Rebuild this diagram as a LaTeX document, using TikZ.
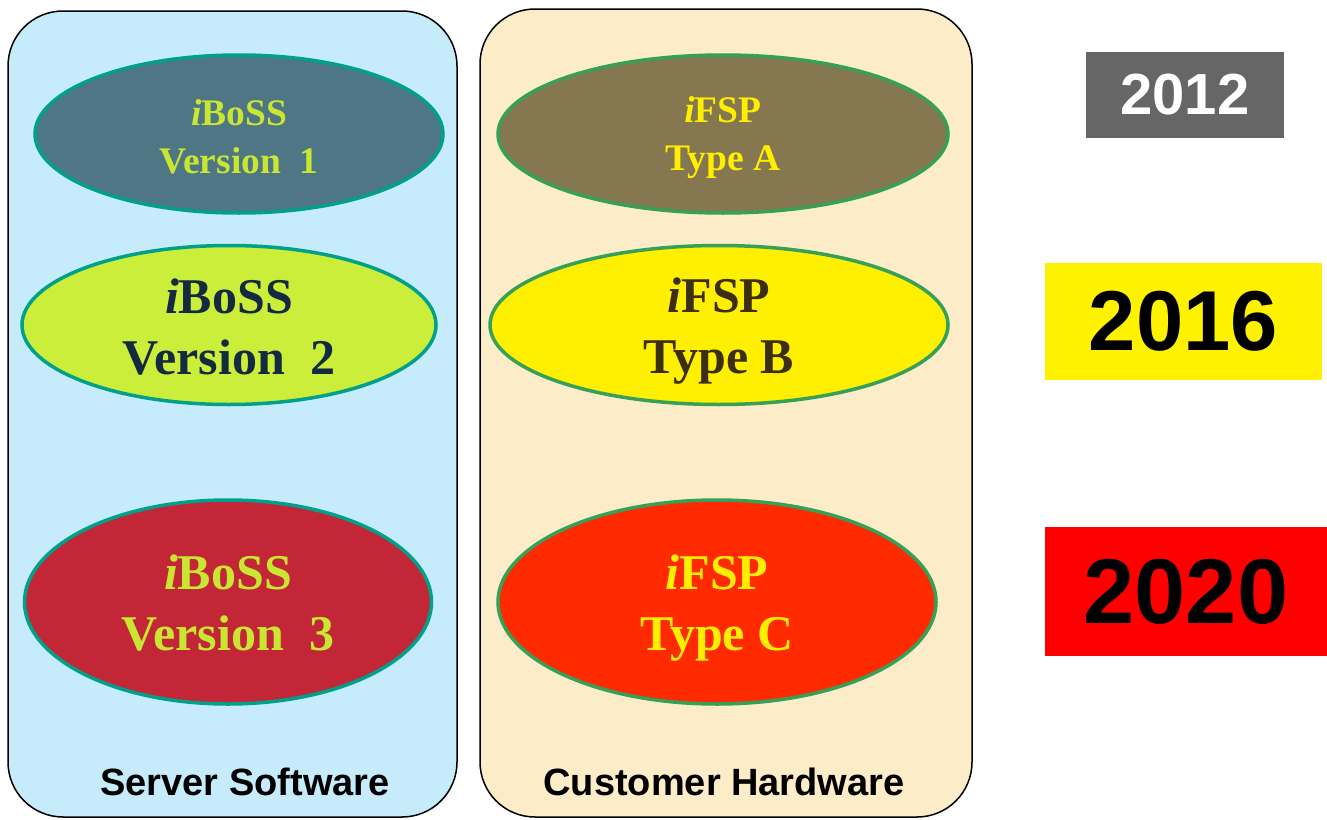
\documentclass[tikz,border=0pt]{standalone}
\usepackage{fontspec}
\setmainfont{Liberation Serif}
\setsansfont{Liberation Sans}
\usetikzlibrary{shapes.geometric}
\definecolor{boxblue}{HTML}{C6EBFA}
\definecolor{boxbeige}{HTML}{FCEDC8}
\definecolor{tealb}{HTML}{00A08A}
\definecolor{greenb}{HTML}{37A058}
\definecolor{slate}{HTML}{4F7685}
\definecolor{lime}{HTML}{CBEE3A}
\definecolor{crimson}{HTML}{C32636}
\definecolor{olive}{HTML}{857850}
\definecolor{brightyel}{HTML}{FFEF00}
\definecolor{redorange}{HTML}{FF2A00}
\definecolor{limetext}{HTML}{C8E632}
\definecolor{navytext}{HTML}{142A40}
\definecolor{browntext}{HTML}{3C2F10}
\definecolor{yeltext}{HTML}{FFEE00}
\definecolor{greybox}{HTML}{666666}
\begin{document}
\begin{tikzpicture}[x=1pt,y=-1pt,
  panel/.style={draw=black,line width=1.5pt,rounded corners=55pt},
  oval/.style={ellipse,inner sep=0pt,line width=3.5pt},
  txt/.style={align=center,inner sep=0pt},
  small/.style={font=\fontsize{37.5}{48}\selectfont\bfseries},
  big/.style={font=\fontsize{50}{61}\selectfont\bfseries},
  yearbox/.style={inner sep=0pt,font=\sffamily\bfseries},
  label/.style={font=\sffamily\bfseries\fontsize{38}{40}\selectfont}]
\useasboundingbox (0,0) rectangle (1327,819);
\fill[white] (0,0) rectangle (1327,819);
% panels
\draw[panel,fill=boxblue] (8,11) rectangle (457,817);
\draw[panel,fill=boxbeige] (480,9) rectangle (972,817);
% left ellipses
\node[oval,draw=tealb,fill=slate,minimum width=408pt,minimum height=158pt] (v1) at (239,134) {};
\node[txt,small,text=limetext] (v1t) at ([yshift=-3pt]v1.center) {\textit{i}BoSS\\Version\ \ 1};
\node[oval,draw=tealb,fill=lime,minimum width=414pt,minimum height=159pt] (v2) at (229,325) {};
\node[txt,big,text=navytext] (v2t) at ([yshift=-2pt]v2.center) {\textit{i}BoSS\\Version\ \ 2};
\node[oval,draw=tealb,fill=crimson,minimum width=407pt,minimum height=204pt] (v3) at (228,602) {};
\node[txt,big,text=limetext] (v3t) at ([yshift=-1.5pt]v3.center) {\textit{i}BoSS\\Version\ \ 3};
% right ellipses
\node[oval,draw=greenb,fill=olive,minimum width=450pt,minimum height=158pt] (ta) at (723,134) {};
\node[txt,small,text=yeltext] (tat) at ([yshift=-4pt]ta.center) {\textit{i}FSP\\Type A};
\node[oval,draw=greenb,fill=brightyel,minimum width=458pt,minimum height=159pt] (tb) at (719,325) {};
\node[txt,big,text=browntext] (tbt) at ([yshift=-6pt]tb.center) {\textit{i}FSP\\Type B};
\node[oval,draw=greenb,fill=redorange,minimum width=438pt,minimum height=204pt] (tc) at (717,602) {};
\node[txt,big,text=yeltext] (tct) at ([yshift=-6pt]tc.center) {\textit{i}FSP\\Type C};
% labels
\node[label] (ss) at (245,782) {Server Software};
\node[label] (ch) at (724,782) {Customer Hardware};
% year boxes
\node[yearbox,fill=greybox,text=white,minimum width=198pt,minimum height=86pt,font=\sffamily\bfseries\fontsize{58}{60}\selectfont] (y12) at (1185,95) {2012};
\node[yearbox,fill=yellow,text=black,minimum width=277pt,minimum height=117pt,font=\sffamily\bfseries\fontsize{85}{90}\selectfont] (y16) at (1183.5,321.5) {2016};
\node[yearbox,fill=red,text=black,minimum width=282pt,minimum height=129pt,font=\sffamily\bfseries\fontsize{92}{96}\selectfont] (y20) at (1186,591.5) {2020};
\end{tikzpicture}
\end{document}
